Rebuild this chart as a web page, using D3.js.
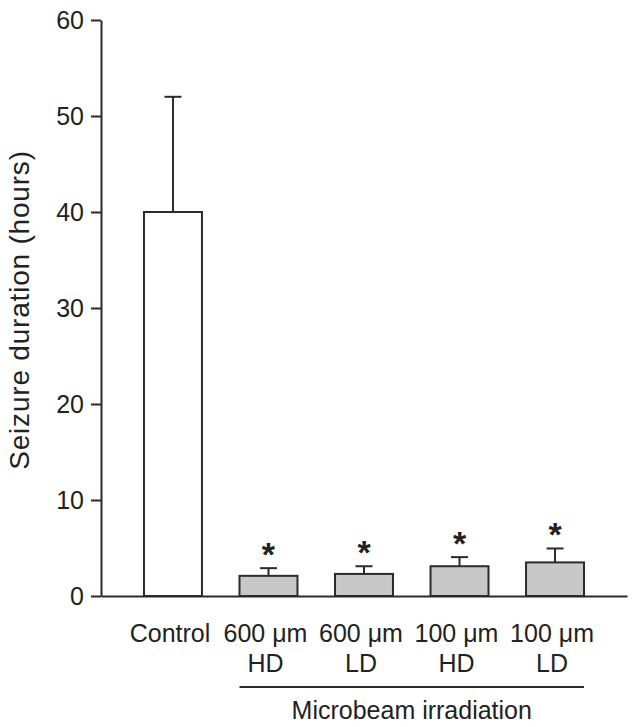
<!DOCTYPE html>
<html>
<head>
<meta charset="utf-8">
<script src="https://cdn.jsdelivr.net/npm/d3@7"></script>
<style>
  body { margin: 0; background: #fff; }
  text { font-family: "Liberation Sans", Arial, Helvetica, sans-serif; fill: #222; }
</style>
</head>
<body>
<div id="chart"></div>
<script>
/* Data */
const labelTop = ["Control", "600 \u03bcm", "600 \u03bcm", "100 \u03bcm", "100 \u03bcm"];
const labelBottom = ["", "HD", "LD", "HD", "LD"];
const means = [40, 2.1, 2.3, 3.1, 3.5];
const errors = [12, 0.8, 0.8, 0.95, 1.45];
const significant = [false, true, true, true, true];
const yTicks = [0, 10, 20, 30, 40, 50, 60];

/* Layout */
const WIDTH = 634
const HEIGHT = 727
const AXIS_X = 101
const AXIS_RIGHT = 627
const Y_TOP = 20
const Y_BOTTOM = 596
const INK = "#2b2b2b"

const svg = d3.select("#chart")
              .append("svg")
              .attr("width", WIDTH)
              .attr("height", HEIGHT);

const data = means.map((m, i) => ({i: i, mean: m, err: errors[i], sig: significant[i]}));

const xScale = d3.scaleBand()
                 .domain(d3.range(means.length))
                 .range([AXIS_X, AXIS_RIGHT])
                 .paddingInner(0.393)
                 .paddingOuter(0.45);
const yScale = d3.scaleLinear()
                 .domain([0, 60])
                 .range([Y_BOTTOM, Y_TOP]);

/* Bars */
svg.selectAll("rect.bar")
   .data(data)
   .enter()
   .append("rect")
   .attr("class", "bar")
   .attr("x", (d) => xScale(d.i))
   .attr("y", (d) => yScale(d.mean))
   .attr("width", xScale.bandwidth())
   .attr("height", (d) => yScale(0) - yScale(d.mean))
   .attr("fill", (d) => d.i === 0 ? "#ffffff" : "#c8c8c8")
   .attr("stroke", INK)
   .attr("stroke-width", 2);

/* Error bars (upper only) */
const CAP = 17;
const errG = svg.append("g").attr("stroke", INK).attr("stroke-width", 2);
data.forEach((d) => {
  const cx = xScale(d.i) + xScale.bandwidth() / 2;
  errG.append("line")
      .attr("x1", cx).attr("x2", cx)
      .attr("y1", yScale(d.mean)).attr("y2", yScale(d.mean + d.err));
  errG.append("line")
      .attr("x1", cx - CAP / 2).attr("x2", cx + CAP / 2)
      .attr("y1", yScale(d.mean + d.err)).attr("y2", yScale(d.mean + d.err));
});

/* Significance stars */
svg.selectAll("text.star")
   .data(data.filter((d) => d.sig))
   .enter()
   .append("text")
   .attr("class", "star")
   .attr("x", (d) => xScale(d.i) + xScale.bandwidth() / 2)
   .attr("y", (d) => yScale(d.mean + d.err) - 2)
   .attr("text-anchor", "middle")
   .style("font-size", "34px")
   .style("font-weight", "bold")
   .text("*");

/* Axes */
const yAxis = d3.axisLeft(yScale).tickValues(yTicks).tickSize(10).tickSizeOuter(0).tickPadding(7);
const yG = svg.append("g")
              .attr("transform", "translate(" + AXIS_X + ", 0)")
              .call(yAxis);
yG.selectAll("path, line").attr("stroke", INK).attr("stroke-width", 2);
yG.selectAll("text").style("font-size", "25px").attr("fill", "#222")
  .style("font-family", "'Liberation Sans', Arial, sans-serif");

const xAxis = d3.axisBottom(xScale).tickSize(0).tickSizeOuter(0).tickFormat("");
const xG = svg.append("g")
              .attr("transform", "translate(0, " + Y_BOTTOM + ")")
              .call(xAxis);
xG.select("path").attr("stroke", INK).attr("stroke-width", 2);

/* Category labels */
svg.selectAll("text.cat1")
   .data(labelTop)
   .enter()
   .append("text")
   .attr("class", "cat1")
   .attr("x", (d, i) => xScale(i) + xScale.bandwidth() / 2 - 3)
   .attr("y", 642)
   .attr("text-anchor", "middle")
   .style("font-size", "25px")
   .text((d) => d);
svg.selectAll("text.cat2")
   .data(labelBottom)
   .enter()
   .append("text")
   .attr("class", "cat2")
   .attr("x", (d, i) => xScale(i) + xScale.bandwidth() / 2 - 3)
   .attr("y", 672)
   .attr("text-anchor", "middle")
   .style("font-size", "25px")
   .text((d) => d);

/* Group bracket */
const bx1 = xScale(1);
const bx2 = xScale(4) + xScale.bandwidth();
svg.append("line")
   .attr("x1", bx1).attr("x2", bx2)
   .attr("y1", 687).attr("y2", 687)
   .attr("stroke", INK).attr("stroke-width", 2);
svg.append("text")
   .attr("x", (bx1 + bx2) / 2)
   .attr("y", 719)
   .attr("text-anchor", "middle")
   .style("font-size", "25px")
   .text("Microbeam irradiation");

/* Y label */
svg.append("text")
   .attr("transform", "translate(29, 310) rotate(-90)")
   .attr("text-anchor", "middle")
   .style("font-size", "28px")
   .style("letter-spacing", "0.8px")
   .text("Seizure duration (hours)");
</script>
</body>
</html>
